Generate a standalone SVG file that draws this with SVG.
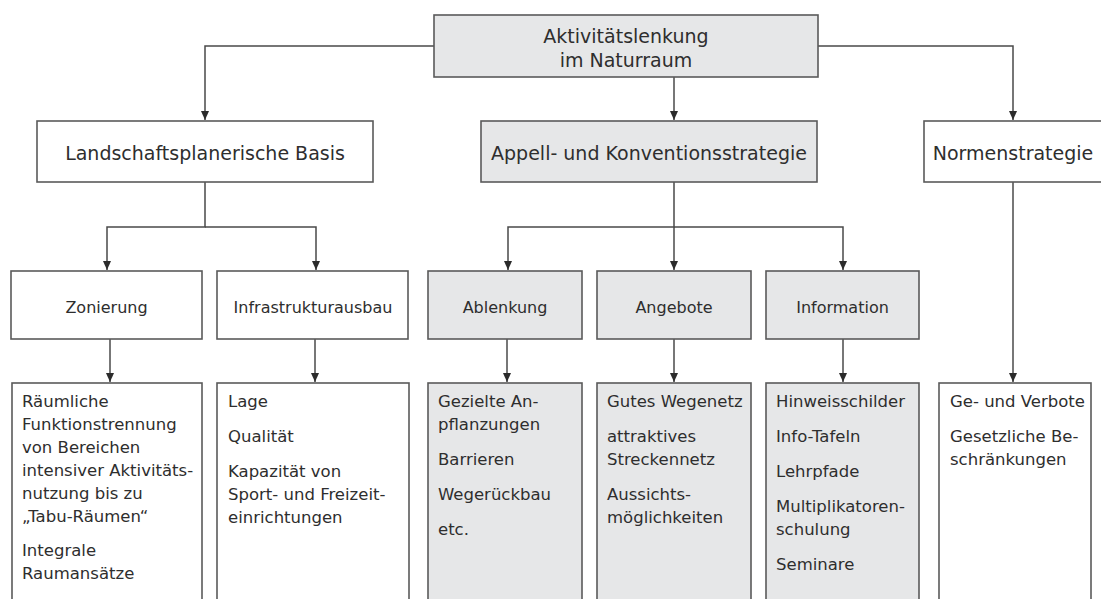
<svg xmlns="http://www.w3.org/2000/svg" width="1101" height="599" viewBox="0 0 1101 599">
  <defs>
    <marker id="arrow" markerUnits="userSpaceOnUse" markerWidth="10" markerHeight="9" refX="9" refY="4" orient="auto">
      <path d="M0,0 L9,4 L0,8 Z" fill="#2b2b2b"/>
    </marker>
    <style>
      .box { stroke: #5a5a5a; stroke-width: 1.6; }
      .white { fill: #ffffff; }
      .grey { fill: #e6e7e8; }
      .conn { fill: none; stroke: #4a4a4a; stroke-width: 1.5; marker-end: url(#arrow); }
      text { font-family: "DejaVu Sans", "Liberation Sans", sans-serif; fill: #2e2e2e; }
      .h1 { font-size: 19px; text-anchor: middle; }
      .h2 { font-size: 16px; text-anchor: middle; }
      .body { font-size: 16.5px; }
    </style>
  </defs>
  <rect width="1101" height="599" fill="#ffffff"/>

  <!-- connectors -->
  <g id="connectors">
    <path class="conn" d="M434,46 H205 V120"/>
    <path class="conn" d="M818,46 H1013 V120"/>
    <path class="conn" d="M674,77 V120"/>
    <path class="conn" d="M205,182 V227 H107 V270"/>
    <path class="conn" d="M205,227 H316 V270"/>
    <path class="conn" d="M674,182 V227 H508 V270"/>
    <path class="conn" d="M674,227 V270"/>
    <path class="conn" d="M674,227 H843 V270"/>
    <path class="conn" d="M110,339 V382"/>
    <path class="conn" d="M315,339 V382"/>
    <path class="conn" d="M507,339 V382"/>
    <path class="conn" d="M674,339 V382"/>
    <path class="conn" d="M843,339 V382"/>
    <path class="conn" d="M1013,182 V382"/>
  </g>

  <!-- root -->
  <g id="root">
    <rect class="box grey" x="434" y="15" width="384" height="62"/>
    <text class="h1" x="626" y="43">Aktivitätslenkung</text>
    <text class="h1" x="626" y="67">im Naturraum</text>
  </g>

  <!-- strategies -->
  <g id="basis">
    <rect class="box white" x="37" y="121" width="336" height="61"/>
    <text class="h1" x="205" y="160">Landschaftsplanerische Basis</text>
  </g>
  <g id="appell">
    <rect class="box grey" x="481" y="121" width="336" height="61"/>
    <text class="h1" x="649" y="160">Appell- und Konventionsstrategie</text>
  </g>
  <g id="normen">
    <rect class="box white" x="924" y="121" width="190" height="61"/>
    <text class="h1" x="1013" y="160">Normenstrategie</text>
  </g>

  <!-- measures -->
  <g id="zonierung">
    <rect class="box white" x="11" y="271" width="191" height="68"/>
    <text class="h2" x="106.5" y="313">Zonierung</text>
  </g>
  <g id="infrastruktur">
    <rect class="box white" x="217" y="271" width="191" height="68"/>
    <text class="h2" x="313" y="313">Infrastrukturausbau</text>
  </g>
  <g id="ablenkung">
    <rect class="box grey" x="428" y="271" width="154" height="68"/>
    <text class="h2" x="505" y="313">Ablenkung</text>
  </g>
  <g id="angebote">
    <rect class="box grey" x="597" y="271" width="154" height="68"/>
    <text class="h2" x="674" y="313">Angebote</text>
  </g>
  <g id="information">
    <rect class="box grey" x="766" y="271" width="153" height="68"/>
    <text class="h2" x="842.5" y="313">Information</text>
  </g>

  <!-- details -->
  <g id="zonierung-details">
    <rect class="box white" x="12" y="383" width="190" height="230"/>
    <text class="body" x="22" y="407">Räumliche</text>
    <text class="body" x="22" y="430">Funktionstrennung</text>
    <text class="body" x="22" y="453">von Bereichen</text>
    <text class="body" x="22" y="476">intensiver Aktivitäts-</text>
    <text class="body" x="22" y="499">nutzung bis zu</text>
    <text class="body" x="22" y="522">„Tabu-Räumen“</text>
    <text class="body" x="22" y="556">Integrale</text>
    <text class="body" x="22" y="579">Raumansätze</text>
  </g>
  <g id="infrastruktur-details">
    <rect class="box white" x="217" y="383" width="192" height="230"/>
    <text class="body" x="228" y="407">Lage</text>
    <text class="body" x="228" y="442">Qualität</text>
    <text class="body" x="228" y="477">Kapazität von</text>
    <text class="body" x="228" y="500">Sport- und Freizeit-</text>
    <text class="body" x="228" y="523">einrichtungen</text>
  </g>
  <g id="ablenkung-details">
    <rect class="box grey" x="428" y="383" width="154" height="230"/>
    <text class="body" x="438" y="407">Gezielte An-</text>
    <text class="body" x="438" y="430">pflanzungen</text>
    <text class="body" x="438" y="465">Barrieren</text>
    <text class="body" x="438" y="500">Wegerückbau</text>
    <text class="body" x="438" y="535">etc.</text>
  </g>
  <g id="angebote-details">
    <rect class="box grey" x="597" y="383" width="154" height="230"/>
    <text class="body" x="607" y="407">Gutes Wegenetz</text>
    <text class="body" x="607" y="442">attraktives</text>
    <text class="body" x="607" y="465">Streckennetz</text>
    <text class="body" x="607" y="500">Aussichts-</text>
    <text class="body" x="607" y="523">möglichkeiten</text>
  </g>
  <g id="information-details">
    <rect class="box grey" x="766" y="383" width="153" height="230"/>
    <text class="body" x="776" y="407">Hinweisschilder</text>
    <text class="body" x="776" y="442">Info-Tafeln</text>
    <text class="body" x="776" y="477">Lehrpfade</text>
    <text class="body" x="776" y="512">Multiplikatoren-</text>
    <text class="body" x="776" y="535">schulung</text>
    <text class="body" x="776" y="570">Seminare</text>
  </g>
  <g id="normen-details">
    <rect class="box white" x="939" y="383" width="152" height="230"/>
    <text class="body" x="950" y="407">Ge- und Verbote</text>
    <text class="body" x="950" y="442">Gesetzliche Be-</text>
    <text class="body" x="950" y="465">schränkungen</text>
  </g>
</svg>
